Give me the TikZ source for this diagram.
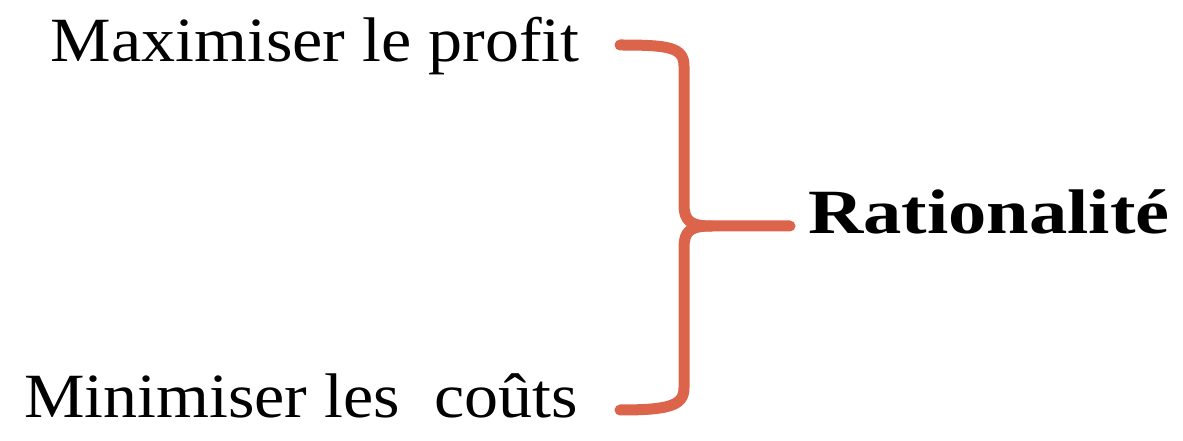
\documentclass[tikz,border=0pt]{standalone}
\usepackage{fontspec}
\setmainfont{Liberation Serif}[FakeStretch=1.08]
\newfontfamily\ratfont{Liberation Serif}[FakeStretch=1.215]
\definecolor{bracecol}{RGB}{220,100,75}
\begin{document}
\begin{tikzpicture}[x=1bp,y=-1bp,
  lbl/.style={inner sep=0pt, font=\fontsize{63bp}{70bp}\selectfont},
  bracestroke/.style={draw=bracecol, line width=11bp, line cap=round, line join=round}]
\useasboundingbox (0,0) rectangle (1183,441);
\node[lbl, anchor=base east] (max) at (580,62) {Maximiser le profit};
\node[lbl, anchor=base east] (min) at (578,418) {Minimiser les~\ coûts};
\node[lbl, anchor=base west, font=\fontsize{63bp}{70bp}\ratfont\bfseries] (rat) at (808,234) {Rationalité};
\coordinate (topend) at (620,45);
\coordinate (botend) at (620,410);
\coordinate (mid) at (712,226);
\coordinate (tip) at (790,226);
\path[bracestroke] (topend) .. controls (668,45) and (684,47) .. (684,66) -- (684,204)
  .. controls (684,221) and (690,226) .. (mid) -- (tip);
\path[bracestroke] (mid) .. controls (690,226) and (684,231) .. (684,248) -- (684,388)
  .. controls (684,406) and (668,410) .. (botend);
\end{tikzpicture}
\end{document}
